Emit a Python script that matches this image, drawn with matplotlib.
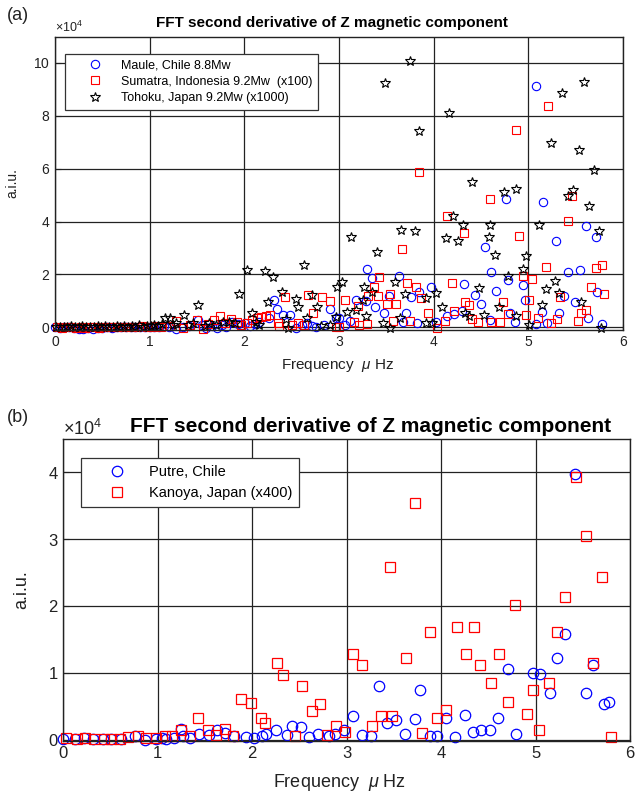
import numpy as np
import matplotlib
matplotlib.use('Agg')
import matplotlib.pyplot as plt

plt.rcParams['font.family'] = ['Liberation Sans', 'DejaVu Sans']
plt.rcParams['mathtext.fontset'] = 'custom'
plt.rcParams['mathtext.it'] = 'Liberation Sans:italic'
plt.rcParams['mathtext.rm'] = 'Liberation Sans'

# ---- panel (a) data, amplitudes in units of 1e4 ----
maule_f = [0.00, 0.05, 0.10, 0.15, 0.20, 0.25, 0.30, 0.35, 0.40, 0.45, 0.50, 0.55, 0.60,
           0.65, 0.70, 0.75, 0.80, 0.85, 0.90, 0.95, 1.00, 1.05, 1.10, 1.15, 1.20,
           1.28, 1.35, 1.42, 1.51, 1.55, 1.60, 1.66, 1.71, 1.76, 1.81, 1.87, 1.93,
           2.01, 2.06, 2.11, 2.16, 2.26, 2.31, 2.34, 2.41, 2.48, 2.55, 2.61, 2.66,
           2.71, 2.76, 2.84, 2.91, 2.97, 3.00, 3.06, 3.12, 3.18, 3.28, 3.30, 3.35,
           3.38, 3.48, 3.53, 3.63, 3.68, 3.71, 3.76, 3.82, 3.84, 3.97, 4.02, 4.14,
           4.21, 4.30, 4.32, 4.44, 4.50, 4.54, 4.59, 4.61, 4.66, 4.76, 4.78, 4.81,
           4.86, 4.94, 4.96, 5.08, 5.08, 5.14, 5.16, 5.20, 5.29, 5.32, 5.38, 5.42,
           5.49, 5.55, 5.61, 5.63, 5.71, 5.73, 5.78]
maule_a = [0.03, -0.02, 0.00, 0.01, -0.04, -0.05, -0.06, -0.04, -0.05, -0.02, -0.03, 0.00, -0.01,
           0.01, 0.00, 0.02, 0.00, 0.03, 0.01, 0.02, 0.00, 0.03, 0.02, 0.04, 0.01,
           -0.06, 0.02, 0.05, 0.28, 0.10, -0.04, 0.05, -0.04, 0.08, 0.03, 0.20, 0.12,
           0.18, 0.05, 0.11, 0.22, 0.34, 1.04, 0.70, 0.46, 0.47, -0.04, 0.10, 0.15,
           0.05, 0.03, 0.08, 0.71, 0.34, 0.37, 0.10, 0.25, 1.04, 1.01, 2.20, 1.86,
           0.76, 0.53, 1.17, 1.96, 0.22, 0.56, 1.14, 0.15, 1.32, 1.52, 0.22, 0.43,
           0.49, 0.62, 1.65, 1.23, 0.89, 3.04, 0.28, 2.09, 1.39, 4.84, 1.80, 0.56,
           0.20, 1.61, 1.04, 9.12, 0.13, 0.59, 4.75, 0.15, 3.25, 0.53, 1.19, 2.09,
           0.97, 2.15, 3.82, 0.34, 3.42, 1.35, 0.11]

sumatra_f = [0.02, 0.07, 0.12, 0.17, 0.22, 0.27, 0.32, 0.37, 0.42, 0.47, 0.52, 0.57, 0.62,
             0.67, 0.72, 0.77, 0.82, 0.87, 0.92, 0.97, 1.02, 1.07, 1.12, 1.17, 1.22,
             1.28, 1.35, 1.43, 1.50, 1.56, 1.62, 1.68, 1.74, 1.80, 1.86, 1.92, 1.97,
             2.03, 2.08, 2.13, 2.18, 2.23, 2.27, 2.36, 2.37, 2.43, 2.50, 2.57, 2.63,
             2.67, 2.73, 2.82, 2.91, 2.97, 3.00, 3.06, 3.16, 3.20, 3.21, 3.30, 3.31,
             3.37, 3.41, 3.42, 3.51, 3.54, 3.57, 3.60, 3.67, 3.72, 3.75, 3.81, 3.85,
             3.87, 3.94, 4.03, 4.12, 4.14, 4.19, 4.21, 4.32, 4.33, 4.37, 4.40, 4.47,
             4.59, 4.61, 4.70, 4.73, 4.78, 4.87, 4.90, 4.94, 4.98, 5.01, 5.04, 5.10,
             5.19, 5.21, 5.24, 5.30, 5.33, 5.42, 5.46, 5.52, 5.56, 5.61, 5.66, 5.71,
             5.78, 5.80]
sumatra_a = [0.00, -0.02, 0.01, 0.00, -0.03, 0.00, -0.02, 0.01, 0.00, -0.01, 0.02, 0.00, 0.01,
             0.00, 0.02, 0.01, 0.03, 0.00, 0.04, 0.02, 0.03, 0.05, 0.02, 0.06, 0.04,
             0.25, -0.04, 0.10, 0.28, -0.08, 0.12, 0.28, 0.43, 0.15, 0.30, 0.20, 0.09,
             0.18, 0.29, 0.37, 0.39, 0.43, 0.46, 0.15, 0.05, 1.14, 0.08, 0.18, 0.10,
             1.22, 0.53, 1.14, 1.01, 0.03, 0.03, 1.05, 0.19, 0.81, 0.09, 0.11, 1.19,
             1.54, 1.19, 1.90, 0.89, 1.25, 0.24, 0.89, 2.96, 1.67, 0.24, 1.54, 5.89,
             1.10, 0.53, -0.04, 0.24, 4.23, 1.67, 0.63, 3.57, 0.94, 0.85, 0.30, 0.22,
             4.87, 0.22, 0.22, 0.94, 0.49, 7.45, 3.44, 1.96, 0.47, 1.04, 1.82, 0.37,
             2.27, 8.36, 0.15, 0.32, 1.14, 4.01, 4.96, 0.24, 0.53, 0.66, 1.51, 2.23,
             2.35, 1.27]

tohoku_f = [0.01, 0.05, 0.09, 0.13, 0.17, 0.21, 0.25, 0.29, 0.33, 0.37, 0.41, 0.45, 0.49,
            0.53, 0.57, 0.61, 0.65, 0.69, 0.73, 0.77, 0.81, 0.85, 0.89, 0.93, 0.97,
            1.01, 1.05, 1.09, 1.13, 1.16, 1.21, 1.25, 1.28, 1.36, 1.41, 1.46, 1.51,
            1.58, 1.63, 1.70, 1.77, 1.84, 1.90, 1.94, 2.03, 2.08, 2.12, 2.16, 2.22,
            2.25, 2.30, 2.40, 2.44, 2.46, 2.55, 2.57, 2.63, 2.66, 2.71, 2.77, 2.81,
            2.90, 2.97, 2.98, 3.03, 3.08, 3.13, 3.18, 3.25, 3.26, 3.29, 3.35, 3.40,
            3.46, 3.49, 3.54, 3.59, 3.64, 3.66, 3.70, 3.75, 3.80, 3.84, 3.92, 3.92,
            3.98, 4.02, 4.09, 4.13, 4.16, 4.20, 4.26, 4.31, 4.33, 4.37, 4.41, 4.48,
            4.53, 4.58, 4.60, 4.65, 4.69, 4.74, 4.79, 4.87, 4.87, 4.94, 4.98, 5.01,
            5.11, 5.14, 5.19, 5.24, 5.28, 5.32, 5.36, 5.42, 5.47, 5.53, 5.56, 5.59,
            5.64, 5.69, 5.75, 5.77]
tohoku_a = [0.02, 0.00, 0.03, 0.01, 0.04, 0.00, 0.02, 0.05, 0.01, 0.03, 0.00, 0.04, 0.02,
            0.05, 0.01, 0.03, 0.06, 0.02, 0.04, 0.01, 0.05, 0.03, 0.08, 0.02, 0.06,
            0.04, 0.09, 0.05, 0.12, 0.34, 0.34, 0.10, 0.15, 0.48, 0.08, 0.18, 0.85,
            0.05, 0.15, 0.08, 0.22, 0.20, 0.15, 1.27, 2.18, 0.53, 0.20, 0.09, 2.14,
            0.96, 1.90, 1.32, 0.30, -0.04, 1.06, 0.75, 2.35, 0.37, 1.22, 0.78, 0.05,
            0.09, 0.38, 1.52, 1.72, 0.59, 3.42, 0.66, 1.04, 1.54, 0.41, 1.35, 2.85,
            0.15, 9.24, -0.04, 1.73, 0.34, 3.68, 1.27, 10.09, 3.65, 7.44, 1.10, 0.18,
            0.15, 1.29, 0.78, 3.37, 8.11, 4.23, 3.25, 3.87, 0.53, 0.41, 5.51, 1.48,
            0.47, 3.42, 3.87, 2.72, 0.75, 5.12, 1.95, 5.23, 0.41, 2.22, 2.68, 0.09,
            3.87, 0.85, 1.44, 6.97, 1.76, 1.29, 8.87, 4.96, 5.21, 6.70, 0.97, 9.27,
            4.58, 5.96, 3.63, -0.04]

# ---- panel (b) data, amplitudes in units of 1e4 ----
putre_f = [0.00, 0.12, 0.22, 0.31, 0.42, 0.50, 0.61, 0.76, 0.86, 0.98, 1.05, 1.09, 1.17,
           1.25, 1.27, 1.34, 1.44, 1.54, 1.63, 1.71, 1.81, 1.93, 2.02, 2.10, 2.15,
           2.25, 2.37, 2.42, 2.52, 2.60, 2.70, 2.81, 2.88, 2.97, 3.07, 3.16, 3.26,
           3.34, 3.43, 3.52, 3.62, 3.72, 3.78, 3.88, 3.96, 4.05, 4.15, 4.25, 4.34,
           4.42, 4.52, 4.60, 4.71, 4.79, 4.97, 5.05, 5.15, 5.23, 5.31, 5.42, 5.53,
           5.61, 5.72, 5.78]
putre_a = [0.01, 0.01, 0.02, 0.01, 0.01, 0.01, 0.01, 0.06, 0.00, 0.01, 0.02, 0.01, 0.03,
           0.16, 0.05, 0.03, 0.09, 0.07, 0.15, 0.10, 0.06, 0.04, 0.03, 0.06, 0.09,
           0.15, 0.07, 0.21, 0.19, 0.04, 0.08, 0.05, 0.09, 0.14, 0.35, 0.07, 0.05,
           0.80, 0.25, 0.29, 0.09, 0.31, 0.74, 0.05, 0.05, 0.33, 0.04, 0.37, 0.11,
           0.15, 0.14, 0.33, 1.06, 0.08, 1.00, 0.98, 0.70, 1.22, 1.58, 3.98, 0.70,
           1.12, 0.54, 0.56]

kanoya_f = [0.03, 0.14, 0.23, 0.32, 0.43, 0.51, 0.60, 0.69, 0.79, 0.88, 0.98, 1.08, 1.15,
            1.25, 1.34, 1.43, 1.53, 1.62, 1.71, 1.80, 1.88, 1.99, 2.09, 2.14, 2.26,
            2.33, 2.45, 2.53, 2.63, 2.72, 2.79, 2.89, 2.98, 3.07, 3.16, 3.27, 3.36,
            3.46, 3.48, 3.63, 3.72, 3.80, 3.88, 3.96, 4.05, 4.17, 4.26, 4.35, 4.41,
            4.53, 4.61, 4.71, 4.78, 4.91, 4.97, 5.04, 5.14, 5.23, 5.31, 5.43, 5.53,
            5.61, 5.70, 5.80]
kanoya_a = [0.03, 0.01, 0.03, 0.01, 0.01, 0.01, 0.01, 0.04, 0.06, 0.03, 0.03, 0.05, 0.06,
            0.14, 0.05, 0.33, 0.14, 0.07, 0.16, 0.05, 0.61, 0.55, 0.33, 0.25, 1.14,
            0.96, 0.06, 0.80, 0.43, 0.53, 0.07, 0.21, 0.11, 1.28, 1.12, 0.21, 0.35,
            2.59, 0.35, 1.22, 3.54, 0.10, 1.61, 0.33, 0.44, 1.68, 1.28, 1.68, 1.12,
            0.85, 1.28, 0.56, 2.01, 0.39, 0.74, 0.14, 0.85, 1.61, 2.13, 3.93, 3.04,
            1.14, 2.43, 0.04]

title = 'FFT second derivative of Z magnetic component'
xlab = r'Frequency  $\mu$ Hz'

fig = plt.figure(figsize=(6.35, 7.93), dpi=100)
ax1 = fig.add_axes([0.0866, 0.5839, 0.8945, 0.370])
ax2 = fig.add_axes([0.0997, 0.0656, 0.8924, 0.381])


def style_axes(ax, ylim, yticks, fs, ofs):
    ax.set_xlim(0, 6)
    ax.set_ylim(ylim[0] * 1e4, ylim[1] * 1e4)
    ax.set_xticks(range(7))
    ax.set_yticks([t * 1e4 for t in yticks])
    ax.grid(True, color='#222222', linewidth=0.9)
    ax.tick_params(direction='in', labelsize=fs, length=4, color='#222222',
                   labelcolor='#222222', top=False, right=False)
    ax.ticklabel_format(axis='y', style='sci', scilimits=(4, 4), useMathText=True)
    ax.yaxis.get_offset_text().set_fontsize(ofs)
    ax.yaxis.get_offset_text().set_color('#222222')
    for s in ax.spines.values():
        s.set_color('#222222')
        s.set_linewidth(1.0)


# panel (a)
ax1.plot(np.array(maule_f), np.array(maule_a) * 1e4, 'o', ms=6, mfc='none', mec='b',
         mew=0.8, label='Maule, Chile 8.8Mw', clip_on=False)
ax1.plot(np.array(sumatra_f), np.array(sumatra_a) * 1e4, 's', ms=5.5, mfc='none', mec='r',
         mew=0.8, label='Sumatra, Indonesia 9.2Mw  (x100)', clip_on=False)
ax1.plot(np.array(tohoku_f), np.array(tohoku_a) * 1e4, '*', ms=7.5, mfc='none', mec='k',
         mew=0.8, label='Tohoku, Japan 9.2Mw (x1000)', clip_on=False)
style_axes(ax1, (-0.1, 11), [0, 2, 4, 6, 8, 10], 10, 9)
ax1.set_title(title, fontsize=11, fontweight='bold', x=0.487, pad=7)
ax1.set_xlabel(xlab, fontsize=11, color='#222222')
ax1.xaxis.set_label_coords(0.498, -0.092)
ax1.set_ylabel('a.i.u.', fontsize=10, color='#222222')
ax1.yaxis.set_label_coords(-0.063, 0.5)
leg1 = ax1.legend(loc='upper left', bbox_to_anchor=(0.0185, 0.941), borderaxespad=0,
                  fancybox=False, edgecolor='#333333', framealpha=1, fontsize=9,
                  handlelength=3.9, handletextpad=0.1, borderpad=0.45, labelspacing=0.35)
leg1.get_frame().set_linewidth(0.9)
fig.text(0.011, 0.981, '(a)', fontsize=13, color='#222222', va='center')

# panel (b)
ax2.plot(np.array(putre_f), np.array(putre_a) * 1e4, 'o', ms=7.5, mfc='none', mec='b',
         mew=0.9, label='Putre, Chile', clip_on=False)
ax2.plot(np.array(kanoya_f), np.array(kanoya_a) * 1e4, 's', ms=7, mfc='none', mec='r',
         mew=0.9, label='Kanoya, Japan (x400)', clip_on=False)
style_axes(ax2, (-0.02, 4.5), [0, 1, 2, 3, 4], 12, 13)
ax2.set_title(title, fontsize=15, fontweight='bold', x=0.543, pad=5)
ax2.set_xlabel(xlab, fontsize=13, color='#222222')
ax2.xaxis.set_label_coords(0.488, -0.103)
ax2.set_ylabel('a.i.u.', fontsize=13, color='#222222')
ax2.yaxis.set_label_coords(-0.059, 0.5)
leg2 = ax2.legend(loc='upper left', bbox_to_anchor=(0.031, 0.938), borderaxespad=0,
                  fancybox=False, edgecolor='#333333', framealpha=1, fontsize=10.5,
                  handlelength=4.0, handletextpad=0.15, borderpad=0.5, labelspacing=0.5)
leg2.get_frame().set_linewidth(0.9)
fig.text(0.011, 0.473, '(b)', fontsize=13, color='#222222', va='center')

fig.savefig('out.png', dpi=100)
